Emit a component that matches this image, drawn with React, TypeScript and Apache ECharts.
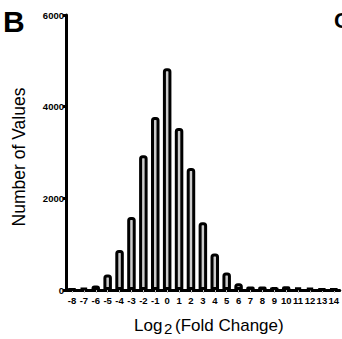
import React, { useEffect, useRef } from "react";
import * as echarts from "echarts";

const categories = ["-8","-7","-6","-5","-4","-3","-2","-1","0","1","2","3","4","5","6","7","8","9","10","11","12","13","14"];
const counts = [20, 40, 98, 336, 873, 1593, 2940, 3775, 4840, 3535, 2660, 1477, 795, 380, 146, 74, 74, 66, 80, 50, 45, 25, 20];
const yTicks = [0, 2000, 4000, 6000];

const FONT = "Liberation Sans, Arial, sans-serif";

export default function App() {
  const ref = useRef<HTMLDivElement>(null);
  useEffect(() => {
    const chart = echarts.init(ref.current!, null, { renderer: "svg" });
    chart.setOption({
      animation: false,
      backgroundColor: "#ffffff",
      grid: { left: 66, top: 15, width: 277, height: 275, containLabel: false },
      xAxis: {
        type: "category",
        data: categories,
        axisLine: { lineStyle: { color: "#000", width: 3 } },
        axisTick: { show: true, alignWithLabel: true, length: 3, lineStyle: { color: "#bbbbbb", width: 1 } },
        axisLabel: { color: "#000", fontFamily: FONT, fontWeight: "bold", fontSize: 9.5, margin: 5, interval: 0 },
      },
      yAxis: {
        type: "value",
        min: yTicks[0],
        max: yTicks[yTicks.length - 1],
        interval: 2000,
        splitLine: { show: false },
        axisLine: { show: true, lineStyle: { color: "#000", width: 3 } },
        axisTick: { show: true, length: 3, lineStyle: { color: "#000", width: 3 } },
        axisLabel: {
          color: "#000", fontFamily: FONT, fontWeight: "bold", fontSize: 9.5, margin: 2,
          formatter: (v: number) => String(v),
        },
      },
      series: [
        {
          type: "bar",
          data: counts,
          barWidth: 8.5,
          itemStyle: { color: "#cccccc", borderColor: "#000", borderWidth: 3, borderRadius: [2, 2, 0, 0] },
        },
      ],
      graphic: [
        { type: "text", x: 3, y: 21, style: { text: "B", font: `bold 30px ${FONT}`, fill: "#000", verticalAlign: "middle" } },
        { type: "text", x: 334, y: 20, style: { text: "C", font: `bold 22px ${FONT}`, fill: "#000", verticalAlign: "middle" } },
        {
          type: "text",
          x: 19, y: 157, rotation: Math.PI / 2,
          style: { text: "Number of Values", font: `17.5px ${FONT}`, fill: "#000", align: "center", verticalAlign: "middle" },
        },
        { type: "text", x: 134, y: 325, style: { text: "Log", font: `17px ${FONT}`, fill: "#000", verticalAlign: "middle" } },
        { type: "text", x: 164, y: 328, style: { text: "2", font: `15px ${FONT}`, fill: "#000", verticalAlign: "middle" } },
        { type: "text", x: 175, y: 325, style: { text: "(Fold Change)", font: `17px ${FONT}`, fill: "#000", verticalAlign: "middle" } },
      ],
    });
    return () => chart.dispose();
  }, []);
  return <div ref={ref} style={{ position: "fixed", left: 0, top: 0, width: 342, height: 339 }} />;
}
